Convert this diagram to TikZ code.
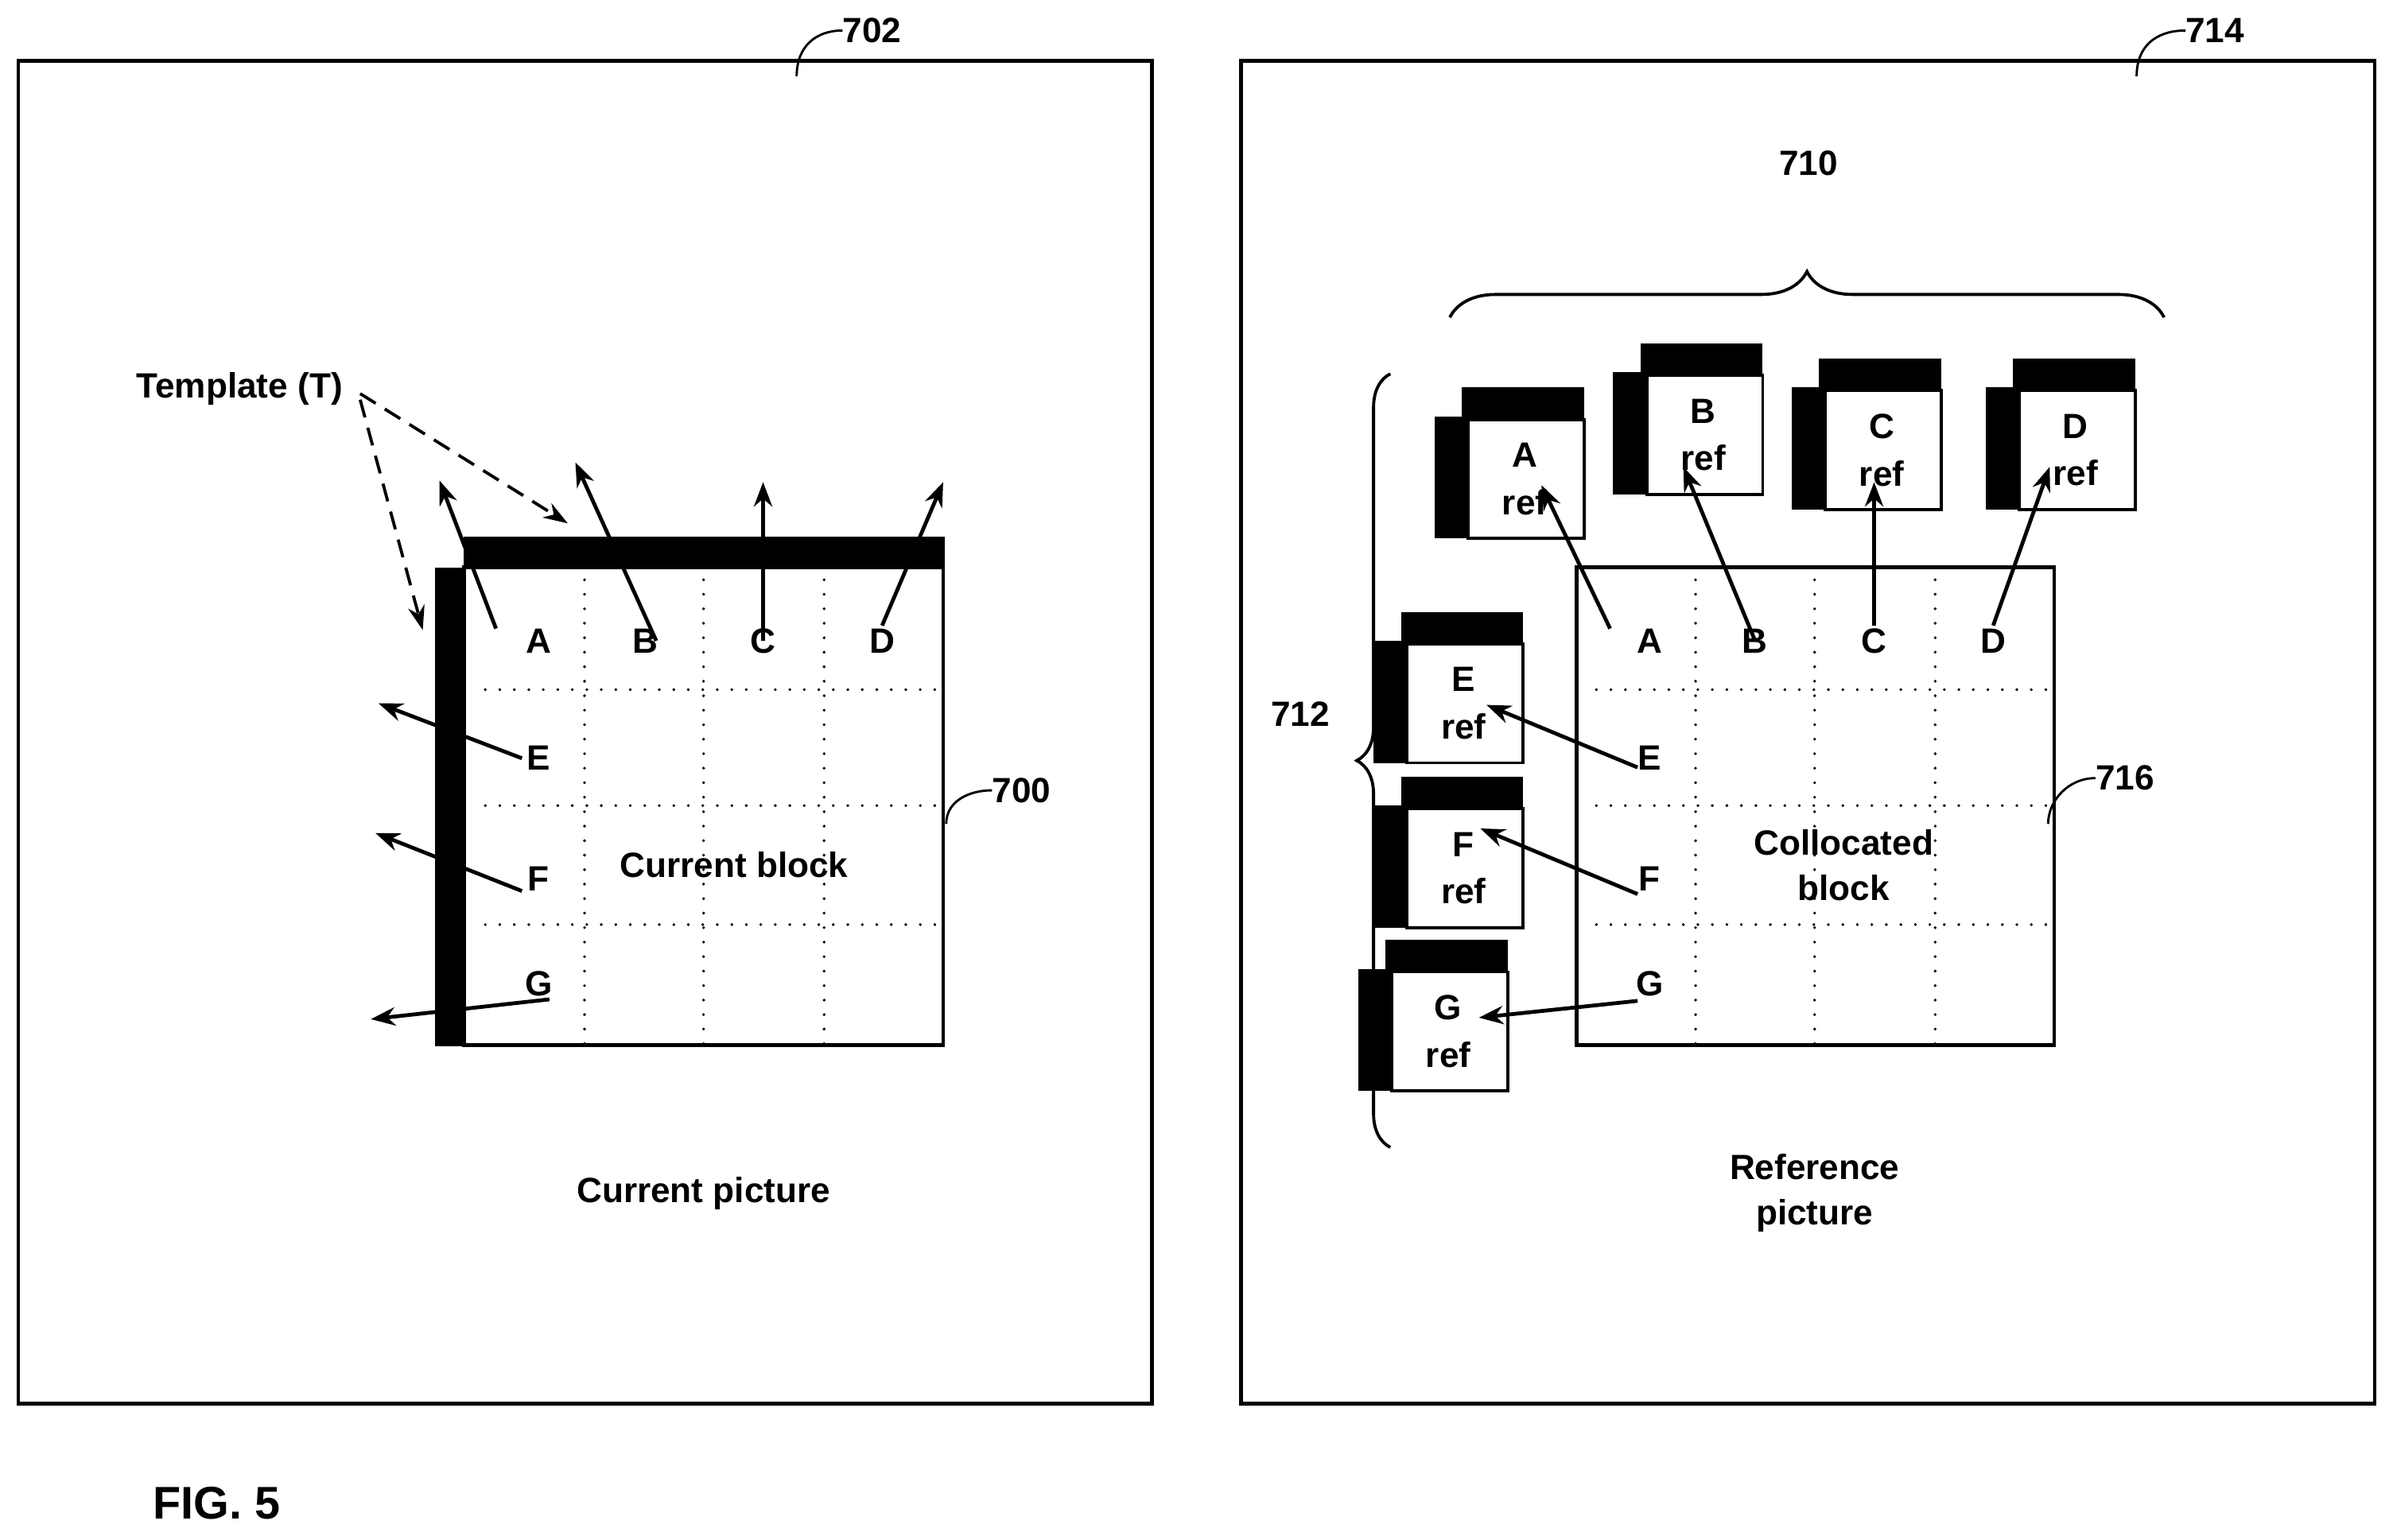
\documentclass[tikz,border=0pt]{standalone}
\usepackage{fontspec}
\setmainfont{Liberation Sans}
\usetikzlibrary{arrows.meta,decorations.pathreplacing}
\begin{document}
\begin{tikzpicture}[x=1pt,y=-1pt,
  lbl/.style={font=\fontsize{23}{27}\selectfont\bfseries,inner sep=0pt},
  frame/.style={line width=2.5pt},
  arr/.style={line width=2.5pt,-{Stealth[length=16pt,width=12pt]}},
  tdash/.style={line width=2pt,dash pattern=on 12pt off 7pt,-{Stealth[length=16pt,width=11pt]}},
  grid/.style={line width=2pt,dash pattern=on 0pt off 9.5pt,line cap=round},
  lead/.style={line width=1.5pt}]
\useasboundingbox (0,0) rectangle (1568,1009);
% frames
\draw[frame] (12,40) rectangle (755,920);
\draw[frame] (813,40) rectangle (1556,920);
\node[lbl,anchor=west] (n702) at (552,20) {702};
\draw[lead] (522,50) .. controls (522,30) and (535,20) .. (n702.west);
\node[lbl,anchor=west] (n714) at (1432,20) {714};
\draw[lead] (1400,50) .. controls (1400,30) and (1413,20) .. (n714.west);
% current block
\draw[frame] (304,372) rectangle (618,685);
\foreach \x in {383,461,540} \draw[grid] (\x,380) -- (\x,685);
\foreach \y in {452,528,606} \draw[grid] (318,\y) -- (618,\y);
\fill (304,352) rectangle (619,373);
\fill (285,372) rectangle (305,686);
\foreach \n/\t/\x/\y in {cA/A/353/420,cB/B/423/420,cC/C/500/420,cD/D/578/420,cE/E/353/497,cF/F/353/576,cG/G/353/645}
  \node[lbl] (\n) at (\x,\y) {\t};
\node[lbl] (cur) at (481,567) {Current block};
\draw[arr] (325,412) -- (288,315);
\draw[arr] (430,420) -- (377,303);
\draw[arr] (500,420) -- (500,316);
\draw[arr] (578,410) -- (618,316);
\draw[arr] (342,497) -- (248,461);
\draw[arr] (342,584) -- (246,546);
\draw[arr] (360,655) -- (243,668);
\node[lbl] (tmpl) at (157,255) {Template (T)};
\draw[tdash] (236,258) -- (372,343);
\draw[tdash] (236,262) -- (277,413);
\node[lbl,anchor=west] (n700) at (650,518) {700};
\draw[lead] (620,540) .. controls (620,525) and (635,518) .. (n700.west);
\node[lbl] (curpic) at (461,782) {Current picture};
% collocated block
\draw[frame] (1033,372) rectangle (1346,685);
\foreach \x in {1111,1189,1268} \draw[grid] (\x,380) -- (\x,685);
\foreach \y in {452,528,606} \draw[grid] (1046,\y) -- (1346,\y);
\foreach \n/\t/\x/\y in {rA/A/1081/420,rB/B/1150/420,rC/C/1228/420,rD/D/1306/420,rE/E/1081/497,rF/F/1081/576,rG/G/1081/645}
  \node[lbl] (\n) at (\x,\y) {\t};
\node[lbl,align=center] (col) at (1208,567) {Collocated\\[3pt]block};
\node[lbl,anchor=west] (n716) at (1373,510) {716};
\draw[lead] (1342,540) .. controls (1342,525) and (1355,510) .. (n716.west);
\node[lbl,align=center] (refpic) at (1189,782) {Reference\\[3pt]picture};
% ref boxes
\foreach \n/\t/\x/\y in {bA/A/940/254,bB/B/1057/225,bC/C/1174/235,bD/D/1301/235,bE/E/900/401,bF/F/900/509,bG/G/890/616}{
  \fill (\x+18,\y) rectangle (\x+98,\y+99);
  \fill (\x,\y+19) rectangle (\x+98,\y+99);
  \draw[line width=2pt,fill=white] (\x+22,\y+21) rectangle (\x+98,\y+99);
  \node[lbl,align=center] (\n) at (\x+59,\y+60) {\t\\[4pt]ref};
}
\draw[arr] (1055,412) -- (1010,318);
\draw[arr] (1150,420) -- (1103,306);
\draw[arr] (1228,410) -- (1228,316);
\draw[arr] (1306,410) -- (1343,306);
\draw[arr] (1073,503) -- (974,462);
\draw[arr] (1073,586) -- (970,543);
\draw[arr] (1073,656) -- (969,667);
% braces
\draw[line width=2pt,decorate,decoration={brace,amplitude=30pt}] (950,208) -- (1418,208);
\node[lbl] (n710) at (1185,107) {710};
\draw[line width=2pt,decorate,decoration={brace,amplitude=22pt}] (911,752) -- (911,245);
\node[lbl] (n712) at (852,468) {712};
\node[font=\fontsize{30}{34}\selectfont\bfseries,inner sep=0pt] (fig) at (142,985) {FIG. 5};
\end{tikzpicture}
\end{document}
